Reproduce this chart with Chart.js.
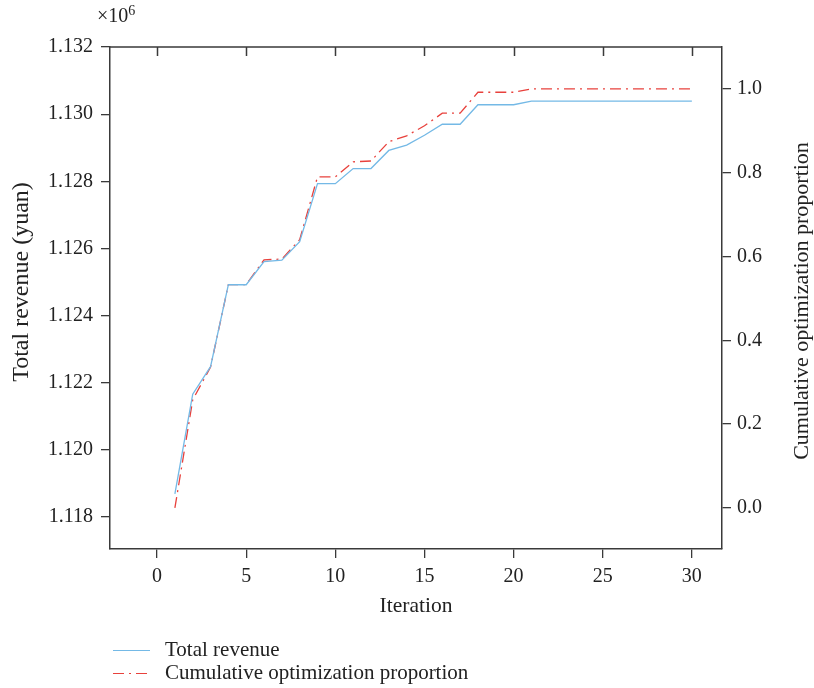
<!DOCTYPE html>
<html>
<head>
<meta charset="utf-8">
<script src="https://cdn.jsdelivr.net/npm/chart.js@4"></script>
<style>
  html, body { margin: 0; padding: 0; background: #fff; }
  canvas { display: block; }
</style>
</head>
<body>
<canvas id="chart" width="814" height="688"></canvas>
<script>
// iterations and the two series
const iterations = [1,2,3,4,5,6,7,8,9,10,11,12,13,14,15,16,17,18,19,20,21,22,23,24,25,26,27,28,29,30];
// total revenue, x10^6 yuan
const revenue = [1.11869,1.12166,1.12248,1.12492,1.12492,1.12561,1.12565,1.12620,1.12793,1.12793,
                 1.12838,1.12838,1.12892,1.12908,1.12937,1.12970,1.12970,1.13028,1.13028,1.13028,
                 1.13039,1.13039,1.13039,1.13039,1.13039,1.13039,1.13039,1.13039,1.13039,1.13039];
// cumulative optimization proportion
const proportion = [0.000,0.258,0.336,0.533,0.533,0.592,0.594,0.640,0.790,0.790,
                    0.826,0.828,0.874,0.888,0.912,0.942,0.942,0.992,0.992,0.992,
                    1.000,1.000,1.000,1.000,1.000,1.000,1.000,1.000,1.000,1.000];

const xTicks = [0,5,10,15,20,25,30];
const revenueTicks = [1.118,1.120,1.122,1.124,1.126,1.128,1.130,1.132];
const proportionTicks = [0,0.2,0.4,0.6,0.8,1.0];

const FONT = '"Liberation Serif", "Times New Roman", serif';
const AXIS = '#3a3a3a';
const TEXT = '#222';
const BLUE = '#74b9e6';
const RED = '#e8413c';
const DASH = [11, 5, 2, 5];

const toPoints = ys => iterations.map((x, i) => ({ x: x, y: ys[i] }));

// top frame, inward ticks, rotated titles, x10^6 and the legend
const decorations = {
  id: 'decorations',
  afterDraw(chart) {
    const ctx = chart.ctx;
    const a = chart.chartArea;
    const xs = chart.scales.x;
    ctx.save();
    ctx.strokeStyle = AXIS;
    ctx.lineWidth = 1.5;
    ctx.beginPath();
    ctx.moveTo(a.left, a.top);
    ctx.lineTo(a.right, a.top);
    xTicks.forEach(v => {
      const px = Math.round(xs.getPixelForValue(v)) + 0.5;
      ctx.moveTo(px, a.top);
      ctx.lineTo(px, a.top + 9);
    });
    ctx.stroke();

    ctx.fillStyle = TEXT;
    ctx.textAlign = 'center';
    ctx.textBaseline = 'middle';
    ctx.font = '21.5px ' + FONT;
    ctx.fillText('Iteration', (a.left + a.right) / 2, 606);

    ctx.save();
    ctx.translate(22, 282);
    ctx.rotate(-Math.PI / 2);
    ctx.font = '24px ' + FONT;
    ctx.fillText('Total revenue (yuan)', 0, 0);
    ctx.restore();

    ctx.save();
    ctx.translate(802, 301);
    ctx.rotate(-Math.PI / 2);
    ctx.font = '22px ' + FONT;
    ctx.fillText('Cumulative optimization proportion', 0, 0);
    ctx.restore();

    // x10^6 multiplier
    ctx.textAlign = 'left';
    ctx.font = '20px ' + FONT;
    ctx.fillText('\u00d710', 97, 17);
    const w = ctx.measureText('\u00d710').width;
    ctx.font = '14px ' + FONT;
    ctx.fillText('6', 97 + w, 11);

    // legend
    ctx.font = '21px ' + FONT;
    ctx.lineWidth = 1.2;
    ctx.strokeStyle = BLUE;
    ctx.beginPath();
    ctx.moveTo(113, 650.5);
    ctx.lineTo(150, 650.5);
    ctx.stroke();
    ctx.fillText('Total revenue', 165, 650);

    ctx.strokeStyle = RED;
    ctx.setLineDash(DASH);
    ctx.beginPath();
    ctx.moveTo(113, 673.5);
    ctx.lineTo(150, 673.5);
    ctx.stroke();
    ctx.setLineDash([]);
    ctx.fillText('Cumulative optimization proportion', 165, 673);
    ctx.restore();
  }
};

const gridStyle = { drawOnChartArea: false, drawTicks: true, tickLength: 9, color: AXIS, lineWidth: 1.3 };
const borderStyle = { display: true, color: AXIS, width: 1.5 };
const tickFont = { family: FONT, size: 20 };

new Chart(document.getElementById('chart'), {
  type: 'line',
  data: {
    datasets: [
      {
        label: 'Total revenue',
        data: toPoints(revenue),
        yAxisID: 'y',
        borderColor: BLUE,
        borderWidth: 1.3,
        pointRadius: 0,
        tension: 0,
        fill: false
      },
      {
        label: 'Cumulative optimization proportion',
        data: toPoints(proportion),
        yAxisID: 'y1',
        borderColor: RED,
        borderWidth: 1.3,
        borderDash: DASH,
        pointRadius: 0,
        tension: 0,
        fill: false
      }
    ]
  },
  options: {
    responsive: false,
    animation: false,
    layout: { padding: { top: 47, left: 0, right: 0, bottom: 0 } },
    plugins: {
      legend: { display: false },
      tooltip: { enabled: false }
    },
    scales: {
      x: {
        type: 'linear',
        min: -2.64,
        max: 31.69,
        afterBuildTicks: s => { s.ticks = xTicks.map(v => ({ value: v })); },
        afterFit: s => { s.height = 139; },
        ticks: { font: tickFont, color: TEXT, padding: 7, maxRotation: 0 },
        grid: gridStyle,
        border: borderStyle
      },
      y: {
        type: 'linear',
        position: 'left',
        min: 1.11705,
        max: 1.132,
        afterBuildTicks: s => { s.ticks = revenueTicks.map(v => ({ value: v })); },
        afterFit: s => { s.width = 110; },
        ticks: { font: tickFont, color: TEXT, padding: 8, callback: v => v.toFixed(3) },
        grid: gridStyle,
        border: borderStyle
      },
      y1: {
        type: 'linear',
        position: 'right',
        min: -0.098,
        max: 1.100,
        afterBuildTicks: s => { s.ticks = proportionTicks.map(v => ({ value: v })); },
        afterFit: s => { s.width = 92; },
        ticks: { font: tickFont, color: TEXT, padding: 6, callback: v => v.toFixed(1) },
        grid: gridStyle,
        border: borderStyle
      }
    }
  },
  plugins: [decorations]
});
</script>
</body>
</html>
